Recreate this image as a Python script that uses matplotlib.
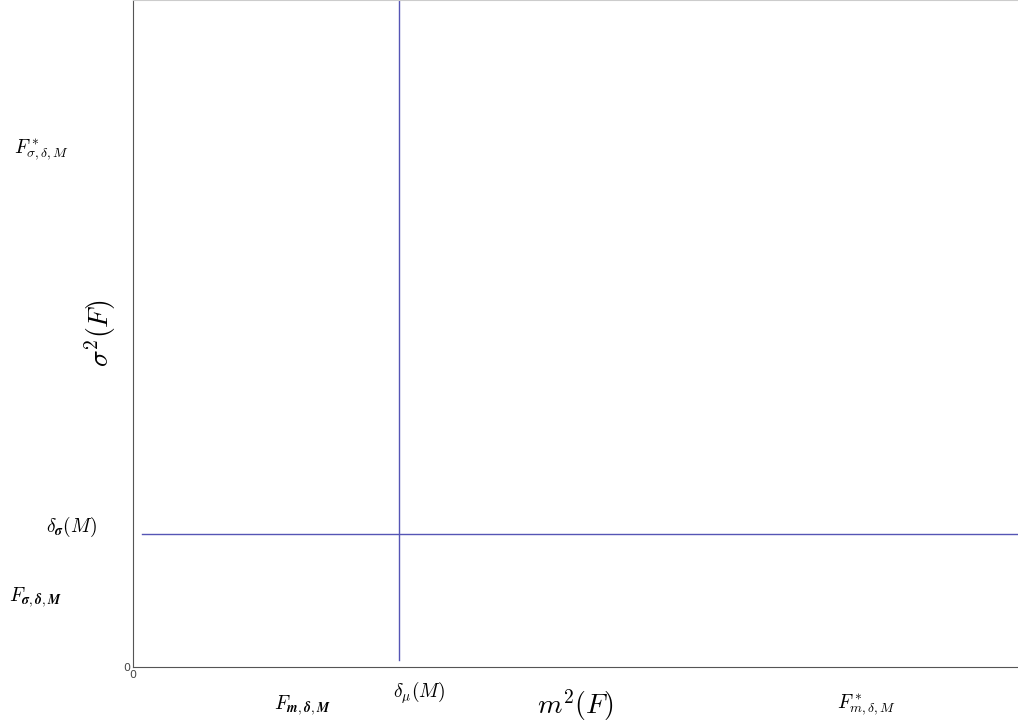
import matplotlib
matplotlib.use('Agg')
import matplotlib.pyplot as plt

plt.rcParams['mathtext.fontset'] = 'cm'

# threshold lines
delta_mu = 3.0
delta_sigma = 2.0
x_max = 10
y_max = 10

# labels placed around the axes (text, x, y)
x_labels = [r'$F_{\boldsymbol{m,\delta,M}}$', r'$\delta_\mu(M)$', r'$F^*_{m,\delta,M}$']
x_label_pos = [1.91, 3.23, 8.29]
x_label_y = [-0.57, -0.39, -0.57]
y_labels = [r'$F^*_{\sigma,\delta,M}$', r'$\delta_{\boldsymbol{\sigma}}(M)$', r'$F_{\boldsymbol{\sigma,\delta,M}}$']
y_label_pos = [7.75, 2.1, 1.05]
y_label_x = [-1.03, -0.70, -1.10]

fig = plt.figure(figsize=(10.18, 7.26), dpi=100)
ax = fig.add_axes([133 / 1018, 59 / 726, 885 / 1018, 667 / 726])

ax.plot([delta_mu, delta_mu], [0.1, y_max], color='#5555b5', lw=1)
ax.plot([0.1, x_max], [delta_sigma, delta_sigma], color='#5555b5', lw=1)

ax.set_xlim(0, x_max)
ax.set_ylim(0, y_max)
ax.set_xticks([0])
ax.set_yticks([0])
ax.tick_params(length=0, labelsize=8, labelcolor='#444444', pad=2)

for s in ['left', 'bottom']:
    ax.spines[s].set_color('#555555')
ax.spines['top'].set_color('#cccccc')
ax.spines['right'].set_visible(False)

for t, x, y in zip(x_labels, x_label_pos, x_label_y):
    ax.text(x, y, t, fontsize=14, ha='center', va='center', clip_on=False)
for t, y, x in zip(y_labels, y_label_pos, y_label_x):
    ax.text(x, y, t, fontsize=14, ha='center', va='center', clip_on=False)

ax.text(5.0, -0.57, r'$m^2(F)$', fontsize=20, ha='center', va='center')
ax.text(-0.37, 5.0, r'$\sigma^2(F)$', fontsize=20, ha='center', va='center', rotation=90)

fig.savefig('out.png', dpi=100)
